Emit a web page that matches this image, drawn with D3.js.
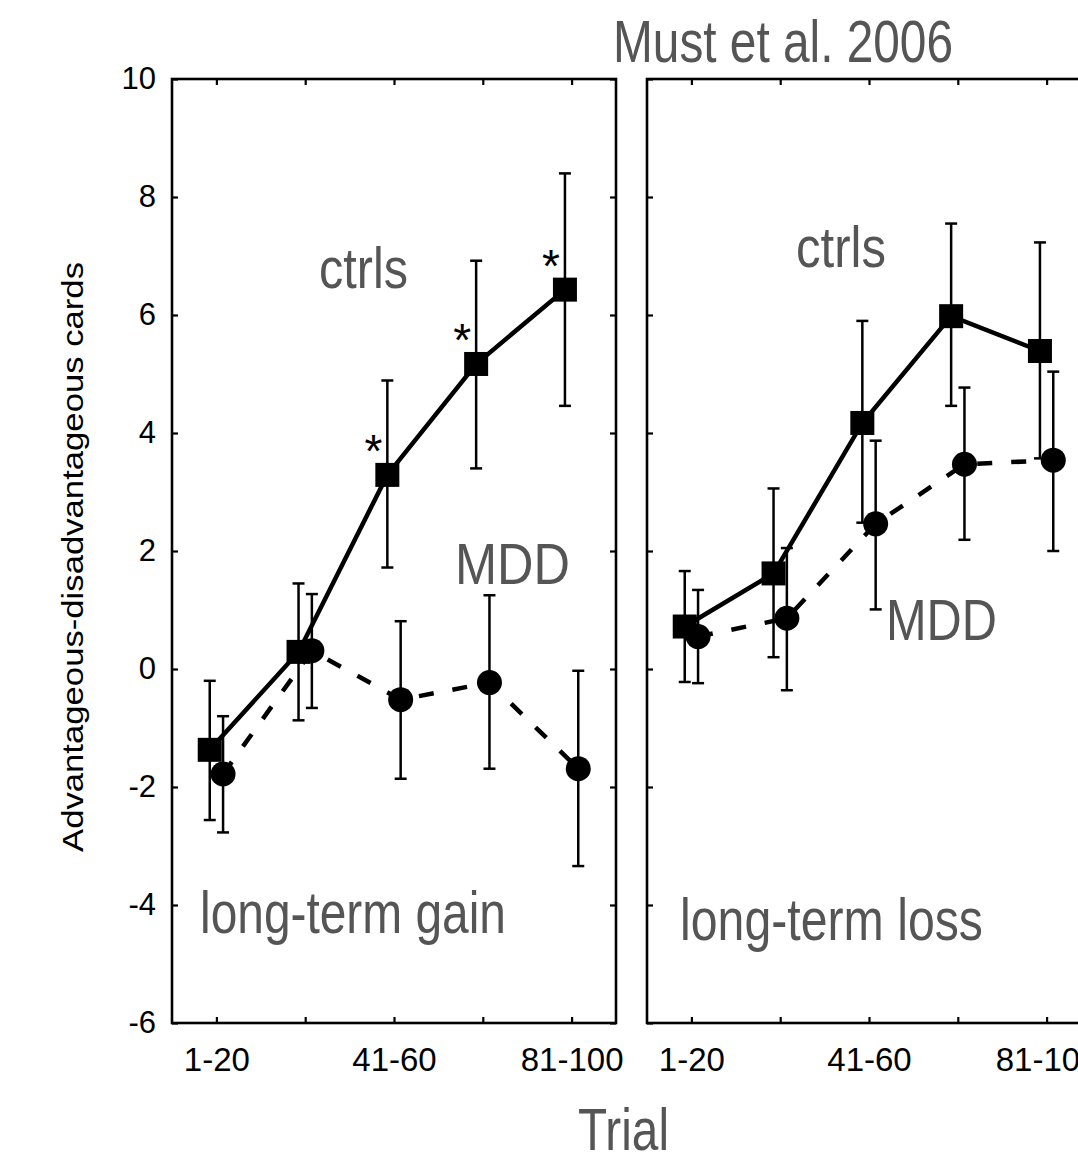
<!DOCTYPE html>
<html>
<head>
<meta charset="utf-8">
<script src="https://cdn.jsdelivr.net/npm/d3@7"></script>
<style>
  body { margin: 0; background: #fff; }
</style>
</head>
<body>
<div id="chart"></div>
<script>
// Trial bins and axis ticks
var trialBins = ["1-20", "21-40", "41-60", "61-80", "81-100"];
var labelledBins = ["1-20", "41-60", "81-100"];
var yTicks = [-6, -4, -2, 0, 2, 4, 6, 8, 10];

// long-term gain panel
var gainCtrlMean = [-1.37, 0.29, 3.29, 5.17, 6.43];
var gainCtrlHi   = [-0.20, 1.45, 4.89, 6.92, 8.40];
var gainCtrlLo   = [-2.56, -0.87, 1.72, 3.40, 4.46];
var gainMddMean  = [-1.78, 0.31, -0.52, -0.23, -1.69];
var gainMddHi    = [-0.80, 1.27, 0.81, 1.25, -0.03];
var gainMddLo    = [-2.77, -0.66, -1.86, -1.69, -3.34];
var gainSig      = [false, false, true, true, true];

// long-term loss panel
var lossCtrlMean = [0.72, 1.62, 4.17, 5.98, 5.39];
var lossCtrlHi   = [1.66, 3.06, 5.90, 7.55, 7.23];
var lossCtrlLo   = [-0.22, 0.20, 2.48, 4.46, 3.57];
var lossMddMean  = [0.55, 0.86, 2.46, 3.47, 3.54];
var lossMddHi    = [1.34, 2.05, 3.87, 4.77, 5.04];
var lossMddLo    = [-0.24, -0.36, 1.01, 2.19, 2.00];
var lossSig      = [false, false, false, false, false];

var width = 1078, height = 1156;
var panelW = 444, top_ = 79, bottom_ = 1023;
var grey = "#555555";
var font = "'Liberation Sans', Arial, sans-serif";

var svg = d3.select("#chart")
    .append("svg")
    .attr("width", width)
    .attr("height", height)
    .style("font-family", font);

var y = d3.scaleLinear()
    .domain([-6, 10])
    .range([bottom_, top_]);

function series(mean, hi, lo) {
    return mean.map(function (m, i) {
        return {i: i + 1, mean: m, hi: hi[i], lo: lo[i]};
    });
}

var panels = [
    {left: 172, yLabels: true,
     ctrl: series(gainCtrlMean, gainCtrlHi, gainCtrlLo),
     mdd: series(gainMddMean, gainMddHi, gainMddLo), sig: gainSig},
    {left: 647, yLabels: false,
     ctrl: series(lossCtrlMean, lossCtrlHi, lossCtrlLo),
     mdd: series(lossMddMean, lossMddHi, lossMddLo), sig: lossSig}
];

var shift = 0.075; // horizontal dodge between the two groups

panels.forEach(function (p) {
    var x = d3.scaleLinear()
        .domain([0.5, 5.5])
        .range([p.left, p.left + panelW]);

    var g = svg.append("g");

    // Axes (ticks pointing inwards on all four sides)
    var xb = g.append("g")
        .attr("transform", "translate(0," + bottom_ + ")")
        .call(d3.axisBottom(x).tickValues([1, 2, 3, 4, 5]).tickSize(-6).tickSizeOuter(0).tickPadding(25)
            .tickFormat(function (d) {
                var b = trialBins[d - 1];
                return labelledBins.indexOf(b) >= 0 ? b : "";
            }));
    var xt = g.append("g")
        .attr("transform", "translate(0," + top_ + ")")
        .call(d3.axisTop(x).tickValues([1, 2, 3, 4, 5]).tickSize(-6).tickSizeOuter(0).tickFormat(""));
    var yl = g.append("g")
        .attr("transform", "translate(" + p.left + ",0)")
        .call(d3.axisLeft(y).tickValues(yTicks).tickSize(-6).tickSizeOuter(0).tickPadding(16)
            .tickFormat(function (d) { return p.yLabels ? String(d) : ""; }));
    var yr = g.append("g")
        .attr("transform", "translate(" + (p.left + panelW) + ",0)")
        .call(d3.axisRight(y).tickValues(yTicks).tickSize(-6).tickSizeOuter(0).tickFormat(""));

    [xb, xt, yl, yr].forEach(function (a) {
        a.select(".domain").remove();
        a.selectAll(".tick line").attr("stroke", "#000").attr("stroke-width", 2.2);
        a.selectAll("text").attr("fill", "#000").style("font-family", font);
    });
    xb.selectAll("text").style("font-size", "33px");
    yl.selectAll("text").style("font-size", "31px");

    g.append("rect")
        .attr("x", p.left)
        .attr("y", top_)
        .attr("width", panelW)
        .attr("height", bottom_ - top_)
        .attr("fill", "none")
        .attr("stroke", "#000")
        .attr("stroke-width", 2.6);

    // Lines
    var lineCtrl = d3.line()
        .x(function (d) { return x(d.i - shift); })
        .y(function (d) { return y(d.mean); });
    var lineMdd = d3.line()
        .x(function (d) { return x(d.i + shift); })
        .y(function (d) { return y(d.mean); });

    g.append("path")
        .datum(p.mdd)
        .attr("d", lineMdd)
        .attr("fill", "none")
        .attr("stroke", "#000")
        .attr("stroke-width", 4.5)
        .attr("stroke-dasharray", "15,19");

    g.append("path")
        .datum(p.ctrl)
        .attr("d", lineCtrl)
        .attr("fill", "none")
        .attr("stroke", "#000")
        .attr("stroke-width", 4.5);

    // Error bars
    function errBars(data, dx) {
        var eb = g.selectAll(null)
            .data(data)
            .enter()
            .append("g")
            .attr("stroke", "#000")
            .attr("stroke-width", 2.5);
        eb.append("line")
            .attr("x1", function (d) { return x(d.i + dx); })
            .attr("x2", function (d) { return x(d.i + dx); })
            .attr("y1", function (d) { return y(d.hi); })
            .attr("y2", function (d) { return y(d.lo); });
        ["hi", "lo"].forEach(function (k) {
            eb.append("line")
                .attr("x1", function (d) { return x(d.i + dx) - 6; })
                .attr("x2", function (d) { return x(d.i + dx) + 6; })
                .attr("y1", function (d) { return y(d[k]); })
                .attr("y2", function (d) { return y(d[k]); });
        });
    }
    errBars(p.ctrl, -shift);
    errBars(p.mdd, shift);

    // Markers
    g.selectAll(null)
        .data(p.mdd)
        .enter()
        .append("circle")
        .attr("cx", function (d) { return x(d.i + shift); })
        .attr("cy", function (d) { return y(d.mean); })
        .attr("r", 12.5)
        .attr("fill", "#000");

    g.selectAll(null)
        .data(p.ctrl)
        .enter()
        .append("rect")
        .attr("x", function (d) { return x(d.i - shift) - 12; })
        .attr("y", function (d) { return y(d.mean) - 12; })
        .attr("width", 24)
        .attr("height", 24)
        .attr("fill", "#000");

    // Significance stars
    g.selectAll(null)
        .data(p.ctrl.filter(function (d, i) { return p.sig[i]; }))
        .enter()
        .append("text")
        .attr("x", function (d) { return x(d.i - shift) - 14; })
        .attr("y", function (d) { return y(d.mean) - 8; })
        .attr("text-anchor", "middle")
        .style("font-size", "46px")
        .attr("fill", "#000")
        .text("*");
});

// Grey annotations
function label(txt, x0, yb, w, fs) {
    svg.append("text")
        .attr("x", x0)
        .attr("y", yb)
        .attr("textLength", w)
        .attr("lengthAdjust", "spacingAndGlyphs")
        .attr("fill", grey)
        .style("font-size", fs + "px")
        .text(txt);
}
label("Must et al. 2006", 613, 62, 340, 60);
label("ctrls", 319, 288, 89, 57);
label("ctrls", 796, 267, 90, 57);
label("MDD", 455, 584, 115, 57);
label("MDD", 886, 640, 111, 57);
label("long-term gain", 200, 933, 306, 59);
label("long-term loss", 680, 940, 303, 59);
label("Trial", 578, 1150, 91, 60);

// Y axis title
svg.append("text")
    .attr("transform", "translate(83,557) rotate(-90)")
    .attr("text-anchor", "middle")
    .attr("textLength", 590)
    .attr("lengthAdjust", "spacingAndGlyphs")
    .attr("fill", "#000")
    .style("font-size", "29px")
    .text("Advantageous-disadvantageous cards");
</script>
</body>
</html>
